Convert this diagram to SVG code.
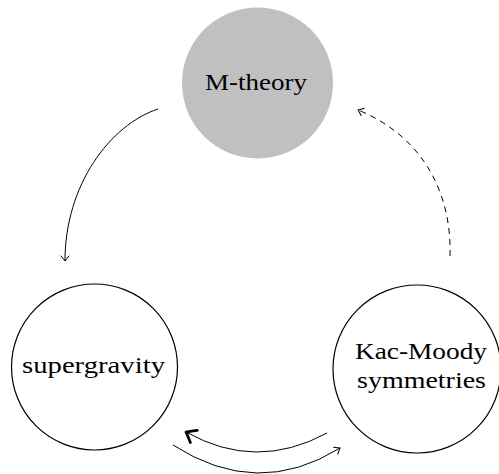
<svg xmlns="http://www.w3.org/2000/svg" width="499" height="474" viewBox="0 0 499 474">
<style>
.lbl{font-family:"Liberation Serif","DejaVu Serif",serif;font-size:23px;fill:#000;text-anchor:middle}
.node{fill:#fff;stroke:#000;stroke-width:1.2}
.edge{fill:none;stroke:#000;stroke-width:1}
</style>
<defs>
<marker id="to" markerUnits="userSpaceOnUse" markerWidth="14" markerHeight="14" viewBox="-8 -7 10 14" refX="0" refY="0" orient="auto">
<path d="M-5,-4 Q-1.5,-1 0,0 Q-1.5,1 -5,4" fill="none" stroke="#000" stroke-width="1" stroke-dasharray="none" stroke-linecap="round"/>
</marker>
<marker id="toThick" markerUnits="userSpaceOnUse" markerWidth="22" markerHeight="22" viewBox="-13 -11 15 22" refX="0" refY="0" orient="auto">
<path d="M-9,-7 Q-2,-1.5 0,0 Q-2,1.5 -9,7" fill="none" stroke="#000" stroke-width="2.8" stroke-linecap="round" stroke-linejoin="round"/>
</marker>
</defs>
<g id="m-theory">
<circle cx="257.5" cy="83" r="75.5" fill="#c0c0c0"/>
<text class="lbl" x="256" y="90" textLength="102" lengthAdjust="spacingAndGlyphs">M-theory</text>
</g>
<g id="supergravity">
<circle class="node" cx="94.5" cy="367" r="83"/>
<text class="lbl" x="93.5" y="373" textLength="143" lengthAdjust="spacingAndGlyphs">supergravity</text>
</g>
<g id="kac-moody">
<circle class="node" cx="417" cy="369" r="84"/>
<text class="lbl" x="421" y="359" textLength="132" lengthAdjust="spacingAndGlyphs">Kac-Moody</text>
<text class="lbl" x="421.5" y="388" textLength="129" lengthAdjust="spacingAndGlyphs">symmetries</text>
</g>
<g id="connectors">
<path class="edge" d="M158,109 C110,125 65,185 65,261" marker-end="url(#to)"/>
<path class="edge" d="M450,256 C452,190 420,135 358,110" stroke-dasharray="6 5" marker-end="url(#to)"/>
<path class="edge" d="M327,433 Q256,471.5 186,432" stroke-width="3" marker-end="url(#toThick)"/>
<path class="edge" d="M173,445 Q257.5,499.5 340,448" marker-end="url(#to)"/>
</g>
</svg>
